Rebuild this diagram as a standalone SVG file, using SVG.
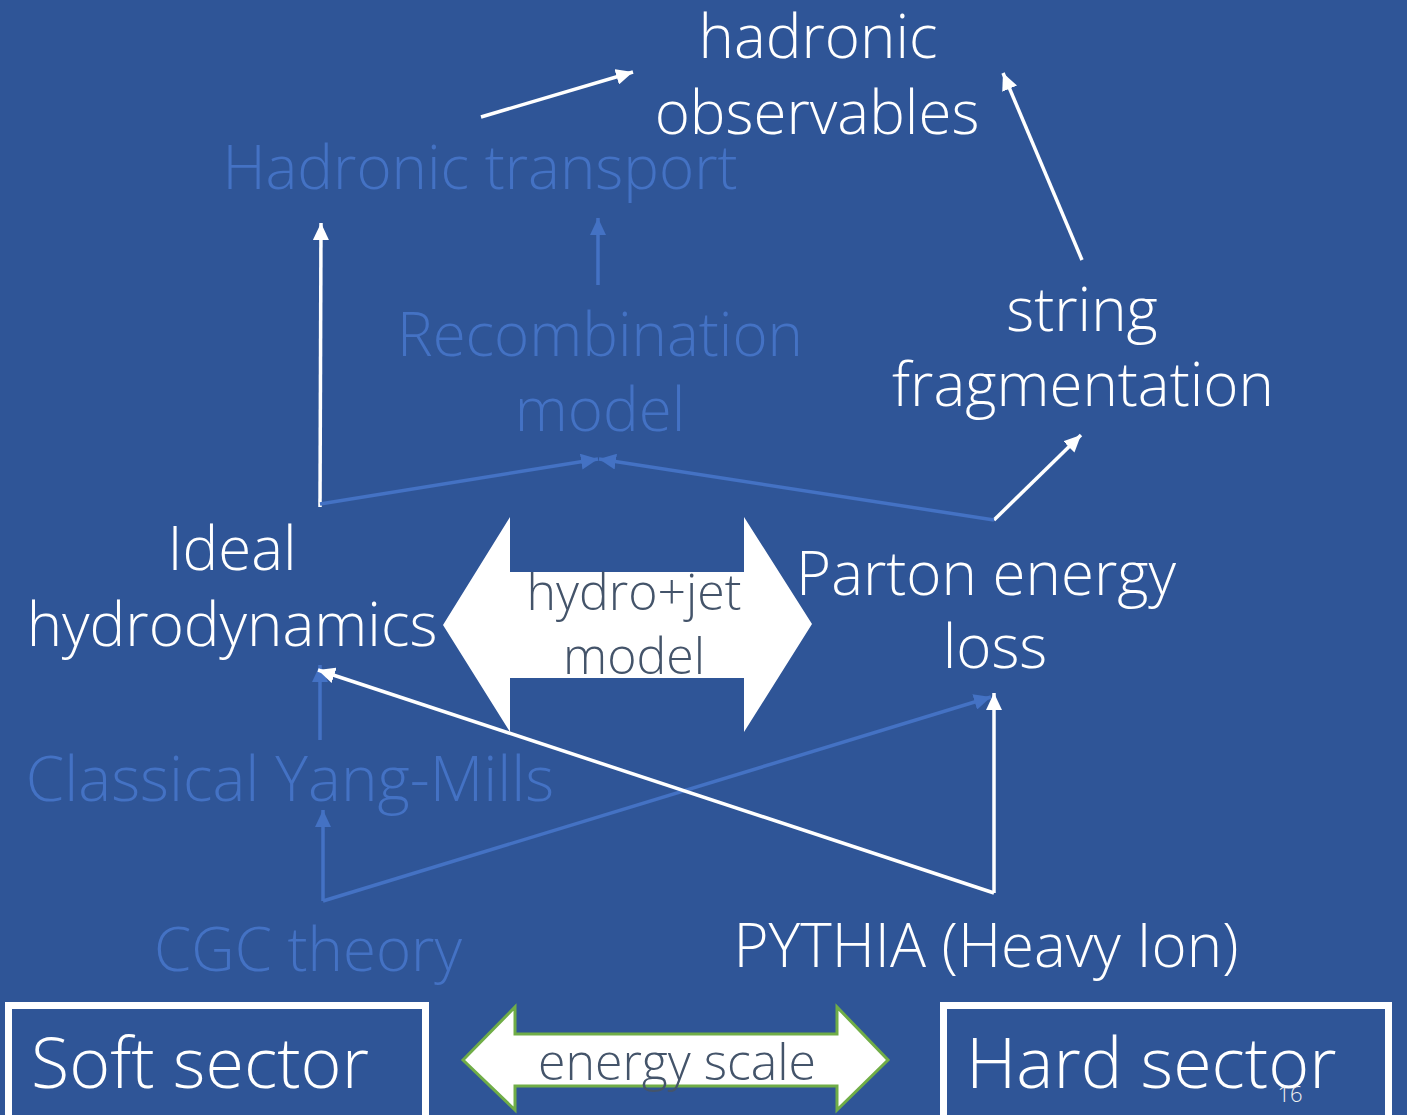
<svg xmlns="http://www.w3.org/2000/svg" width="1407" height="1115" viewBox="0 0 1407 1115">
  <style>
    text { font-family: "Open Sans", "Noto Sans", "DejaVu Sans", sans-serif; font-weight: 300; }
    .lbl { font-size: 60px; text-anchor: middle; }
    .w { fill: #FFFFFF; }
    .b { fill: #4472C4; }
    .dark { fill: #44546A; font-size: 50px; text-anchor: middle; }
    .box { fill: none; stroke: #FFFFFF; stroke-width: 7; }
    .boxtxt { font-size: 70px; fill: #FFFFFF; }
    .cw { stroke: #FFFFFF; stroke-width: 3.5; fill: none; }
    .cb { stroke: #4472C4; stroke-width: 3.5; fill: none; }
  </style>
  <defs>
    <marker id="hw" markerUnits="userSpaceOnUse" markerWidth="18" markerHeight="16" refX="17" refY="8" orient="auto">
      <path d="M0,0 L17,8 L0,16 z" fill="#FFFFFF"/>
    </marker>
    <marker id="hb" markerUnits="userSpaceOnUse" markerWidth="18" markerHeight="16" refX="17" refY="8" orient="auto">
      <path d="M0,0 L17,8 L0,16 z" fill="#4472C4"/>
    </marker>
  </defs>

  <rect width="1407" height="1115" fill="#2F5597"/>

  <!-- connectors -->
  <g id="connectors">
    <line class="cw" x1="481" y1="117" x2="633" y2="72" marker-end="url(#hw)"/>
    <line class="cw" x1="1082" y1="260" x2="1003" y2="73" marker-end="url(#hw)"/>
    <line class="cw" x1="994" y1="520" x2="1081" y2="435" marker-end="url(#hw)"/>
    <line class="cw" x1="320" y1="507" x2="321" y2="223" marker-end="url(#hw)"/>
    <line class="cb" x1="320" y1="504" x2="598" y2="459" marker-end="url(#hb)"/>
    <line class="cb" x1="994" y1="520" x2="599" y2="459" marker-end="url(#hb)"/>
    <line class="cb" x1="598" y1="285" x2="598" y2="218" marker-end="url(#hb)"/>
    <line class="cb" x1="320" y1="740" x2="320" y2="665" marker-end="url(#hb)"/>
    <line class="cb" x1="323" y1="901" x2="323" y2="810" marker-end="url(#hb)"/>
    <line class="cb" x1="323" y1="901" x2="991" y2="697" marker-end="url(#hb)"/>
    <line class="cw" x1="994" y1="893" x2="994" y2="693" marker-end="url(#hw)"/>
    <line class="cw" x1="994" y1="893" x2="318" y2="670" marker-end="url(#hw)"/>
  </g>

  <!-- nodes -->
  <g id="hadronic-observables">
    <text class="lbl w" x="818" y="58">hadronic</text>
    <text class="lbl w" x="817" y="134">observables</text>
  </g>
  <g id="hadronic-transport">
    <text class="lbl b" x="480" y="189">Hadronic transport</text>
  </g>
  <g id="recombination">
    <text class="lbl b" x="600" y="356">Recombination</text>
    <text class="lbl b" x="600" y="431">model</text>
  </g>
  <g id="string-fragmentation">
    <text class="lbl w" x="1082" y="331">string</text>
    <text class="lbl w" x="1083" y="406">fragmentation</text>
  </g>
  <g id="ideal-hydro">
    <text class="lbl w" x="232" y="570">Ideal</text>
    <text class="lbl w" x="232" y="646">hydrodynamics</text>
  </g>
  <g id="parton-energy-loss">
    <text class="lbl w" x="986" y="595">Parton energy</text>
    <text class="lbl w" x="995" y="668">loss</text>
  </g>
  <g id="hydro-jet">
    <polygon fill="#FFFFFF" points="443,625 510,517 510,572 744,572 744,517 812,624 744,732 744,678 510,678 510,732"/>
    <text class="dark" x="634" y="610">hydro+jet</text>
    <text class="dark" x="634" y="674">model</text>
  </g>
  <g id="classical-yang-mills">
    <text class="lbl b" x="290" y="801" style="font-size:62px">Classical Yang-Mills</text>
  </g>
  <g id="cgc-theory">
    <text class="lbl b" x="308" y="971">CGC theory</text>
  </g>
  <g id="pythia">
    <text class="lbl w" x="986" y="967">PYTHIA (Heavy Ion)</text>
  </g>

  <g id="soft-sector">
    <rect class="box" x="8.5" y="1005.5" width="417" height="120"/>
    <text class="boxtxt" x="31" y="1088">Soft sector</text>
  </g>
  <g id="energy-scale">
    <polygon fill="#FFFFFF" stroke="#70AD47" stroke-width="3" points="463,1060 515,1007 515,1034 837,1034 837,1007 888,1060 837,1110 837,1086 515,1086 515,1110"/>
    <text class="dark" x="677" y="1080">energy scale</text>
  </g>
  <g id="hard-sector">
    <rect class="box" x="943.5" y="1005.5" width="445" height="120"/>
    <text class="boxtxt" x="966" y="1088">Hard sector</text>
  </g>
  <text x="1290" y="1102" font-size="22" fill="#F2F2F2" text-anchor="middle">16</text>
</svg>
